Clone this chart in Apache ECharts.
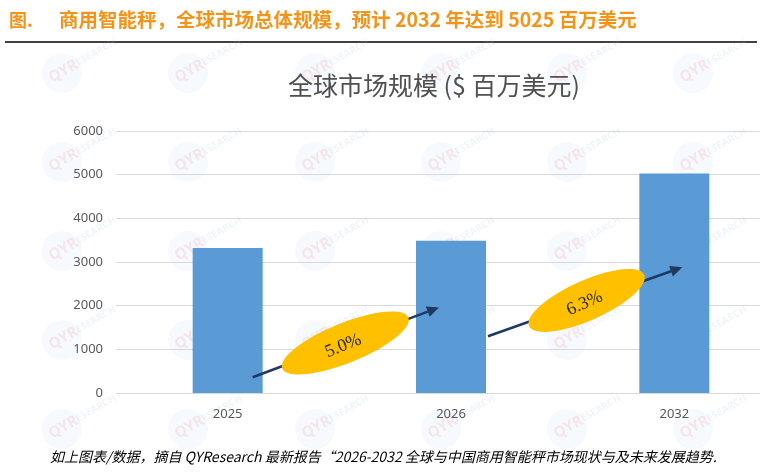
<!DOCTYPE html>
<html>
<head>
<meta charset="utf-8">
<script src="https://cdn.jsdelivr.net/npm/echarts@6/dist/echarts.min.js"></script>
<style>
  html, body { margin: 0; padding: 0; background: #fff; }
  #main { width: 760px; height: 475px; }
</style>
</head>
<body>
<div id="main"></div>
<script>
// 数据
var years = ['2025', '2026', '2032'];
var marketSize = [3320, 3485, 5025];
var cagrLabels = ['5.0%', '6.3%'];
var yTicks = [0, 6000, 1000]; // min, max, interval

var headText = '商用智能秤，全球市场总体规模，预计 2032 年达到 5025 百万美元';
var footText = '如上图表/数据，摘自 QYResearch 最新报告“2026-2032 全球与中国商用智能秤市场现状与及未来发展趋势.';

var chart = echarts.init(document.getElementById('main'));

var option = {
    backgroundColor: '#fff',
    animation: false,
    title: {
        text: '全球市场规模 ($ 百万美元)',
        left: 283,
        top: 68,
        textStyle: {
            fontFamily: 'Noto Sans CJK SC',
            fontSize: 25,
            fontWeight: 'normal',
            color: '#505050'
        }
    },
    grid: { left: 116, top: 131, width: 670, height: 262, outerBoundsMode: 'none', containLabel: false },
    xAxis: {
        type: 'category',
        data: years,
        axisLine: { lineStyle: { color: '#d9d9d9', width: 1 } },
        axisTick: { show: false },
        axisLabel: { color: '#595959', fontSize: 13, fontFamily: 'Noto Sans', margin: 15 }
    },
    yAxis: {
        type: 'value',
        min: yTicks[0],
        max: yTicks[1],
        interval: yTicks[2],
        axisLine: { show: false },
        axisTick: { show: false },
        axisLabel: { color: '#595959', fontSize: 13, fontFamily: 'Noto Sans', margin: 13,
            formatter: function (v) { return String(v); } },
        splitLine: { lineStyle: { color: '#d9d9d9' } }
    },
    series: [{
        type: 'bar',
        data: marketSize,
        barWidth: 70,
        itemStyle: { color: '#5B9BD5' }
    }]
};
chart.setOption(option);

// 坐标换算
function pt(cat, val) {
    return chart.convertToPixel({ gridIndex: 0 }, [cat, val]);
}
function rad(d) { return d * Math.PI / 180; }

function arrow(p0, p1) {
    var dx = p1[0] - p0[0], dy = p1[1] - p0[1];
    var len = Math.sqrt(dx * dx + dy * dy);
    var ux = dx / len, uy = dy / len;
    var hl = 12, hw = 5.5;
    var bx = p1[0] - ux * hl, by = p1[1] - uy * hl;
    return [
        { type: 'line', z: 10, shape: { x1: p0[0], y1: p0[1], x2: bx, y2: by },
          style: { stroke: '#1F3864', lineWidth: 2.5 } },
        { type: 'polygon', z: 10, shape: { points: [
            [p1[0], p1[1]], [bx - uy * hw, by + ux * hw], [bx + uy * hw, by - ux * hw]] },
          style: { fill: '#1F3864' } }
    ];
}

function bubble(c, rx, ry, deg, label) {
    return [
        { type: 'ellipse', z: 12, x: c[0], y: c[1], rotation: rad(deg),
          shape: { cx: 0, cy: 0, rx: rx, ry: ry }, style: { fill: '#FFC000' } },
        { type: 'text', z: 13, x: c[0] - 2, y: c[1] + 3, rotation: rad(deg),
          style: { text: label, fontFamily: 'Liberation Serif', fontSize: 18,
                   fill: '#262626', align: 'center', verticalAlign: 'middle' } }
    ];
}

var x0 = pt(years[0], 0)[0], x1 = pt(years[1], 0)[0], x2 = pt(years[2], 0)[0];
function yv(v) { return pt(years[0], v)[1]; }

var els = [];
// 顶部标题与线
els.push({ type: 'text', x: 9, y: 11, style: { text: '图.', fontFamily: 'Noto Sans CJK SC',
    fontWeight: 'bold', fontSize: 18, fill: '#F39419' } });
els.push({ type: 'text', x: 59, y: 10, style: { text: headText, fontFamily: 'Noto Sans CJK SC',
    fontWeight: 'bold', fontSize: 19.5, fill: '#F39419' } });
els.push({ type: 'line', shape: { x1: 5, y1: 42, x2: 757, y2: 42 },
    style: { stroke: '#000', lineWidth: 1.5 } });
els.push({ type: 'text', x: 50, y: 450, style: { text: footText, fontFamily: 'Noto Sans CJK SC',
    fontStyle: 'italic', fontSize: 14, fill: '#000' } });

// 增长箭头
els = els.concat(arrow([x0 + 25, yv(360)], [x1 - 12, yv(1960)]));
els = els.concat(arrow([x1 + 37, yv(1300)], [x2 + 8, yv(2880)]));
els = els.concat(bubble([(x0 + x1) / 2 + 6, yv(1145)], 68, 20, 22, cagrLabels[0]));
els = els.concat(bubble([(x1 + x2) / 2 + 24, yv(2120)], 63, 20, 24, cagrLabels[1]));

// 水印
var wmX = [62, 188, 315, 441, 567, 693];
var wmY = [73, 162, 251, 340, 429];
wmY.forEach(function (wy) {
    wmX.forEach(function (wx) {
        els.push({
            type: 'group', x: wx, y: wy, z: 50, silent: true,
            children: [
                { type: 'circle', shape: { cx: 0, cy: 0, r: 20 },
                  style: { fill: '#b7d3ec', opacity: 0.13 } },
                { type: 'text', x: -12, y: 6, rotation: rad(30),
                  style: { text: '{a|QYR}{b|ESEARCH}', verticalAlign: 'middle', opacity: 0.16,
                    rich: {
                        a: { fontFamily: 'Noto Sans', fontWeight: 'bold', fontSize: 15, fill: '#f08080' },
                        b: { fontFamily: 'Noto Sans', fontWeight: 'bold', fontSize: 10, fill: '#9cc3e6' }
                    } } }
            ]
        });
    });
});

chart.setOption({ graphic: { elements: els } });
</script>
</body>
</html>
